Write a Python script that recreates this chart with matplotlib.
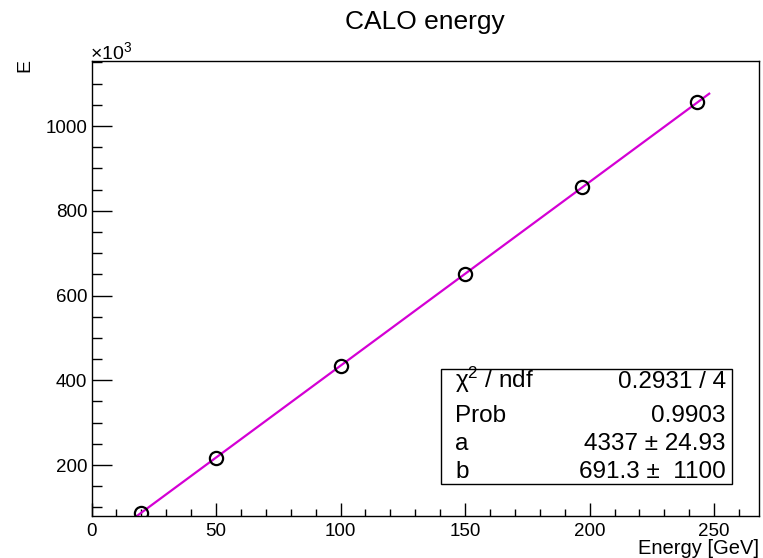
import matplotlib
matplotlib.use('Agg')
import matplotlib.pyplot as plt
import numpy as np
from matplotlib.patches import Rectangle
from matplotlib.ticker import MultipleLocator

plt.rcParams['font.family'] = ['Liberation Sans', 'DejaVu Sans']
plt.rcParams['mathtext.fontset'] = 'custom'
plt.rcParams['mathtext.rm'] = 'Liberation Sans'
plt.rcParams['mathtext.it'] = 'Liberation Sans:italic'

# measured points, E in units of 10^3
energy_gev = np.array([20, 50, 100, 150, 197, 243])
calo_e = np.array([87, 217, 434, 651, 855, 1056])

# linear fit E = a*x + b, values from the stats box
fit_a = 4337
fit_b = 691.3
fit_range = np.array([18, 248])

stat_names = ['χ$^{2}$ / ndf', 'Prob', 'a', 'b']
stat_values = ['0.2931 / 4', '0.9903', '4337 ± 24.93', '691.3 ±  1100']

W, H = 763, 558
fig = plt.figure(figsize=(W / 100, H / 100), dpi=100)
fig.patch.set_facecolor('white')

def fx(px):
    return px / W

def fy(py):
    return 1 - py / H

ax = fig.add_axes([fx(91.5), fy(516), fx(759) - fx(91.5), fy(61) - fy(516)])

# fit line
fit_y = (fit_a * fit_range + fit_b) / 1e3
ax.plot(fit_range, fit_y, color='#d400d4', lw=1.6, zorder=2)
# data points
ax.plot(energy_gev, calo_e, 'o', mfc='none', mec='black', ms=9.5, mew=1.6, zorder=3)

ax.set_xlim(0, 268)
ax.set_ylim(79.65, 1153.4)
ax.xaxis.set_major_locator(MultipleLocator(50))
ax.xaxis.set_minor_locator(MultipleLocator(10))
ax.yaxis.set_major_locator(MultipleLocator(200))
ax.yaxis.set_minor_locator(MultipleLocator(50))

ax.tick_params(axis='x', which='major', direction='in', length=9.5, width=1.0, labelsize=13.5, pad=5)
ax.tick_params(axis='x', which='minor', direction='in', length=5, width=1.0)
ax.tick_params(axis='y', which='major', direction='in', length=14.4, width=1.0, labelsize=13.5, pad=3)
ax.tick_params(axis='y', which='minor', direction='in', length=7.2, width=1.0)
for s in ax.spines.values():
    s.set_linewidth(1.0)

# titles and labels
fig.text(fx(425), fy(22), 'CALO energy', ha='center', va='center', fontsize=19)
fig.text(fx(759), fy(548), 'Energy [GeV]', ha='right', va='center', fontsize=14.5)
fig.text(fx(25), fy(59), 'E', ha='center', va='top', rotation=90, fontsize=14)
fig.text(fx(90), fy(59), '×10$^{3}$', ha='left', va='baseline', fontsize=14)

# stats box
box_l, box_r, box_t, box_b = 440.7, 732.3, 369.3, 484
fig.patches.append(Rectangle((fx(box_l), fy(box_b)), fx(box_r) - fx(box_l), fy(box_t) - fy(box_b),
                             transform=fig.transFigure, fc='white', ec='black', lw=1.0, zorder=5))
row_base = [388, 421.7, 450, 478.3]
for name, val, yb in zip(stat_names, stat_values, row_base):
    fig.text(fx(455), fy(yb), name, ha='left', va='baseline', fontsize=17.5, zorder=6)
    fig.text(fx(725.7), fy(yb), val, ha='right', va='baseline', fontsize=17.5, zorder=6)

fig.savefig('out.png', dpi=100)
